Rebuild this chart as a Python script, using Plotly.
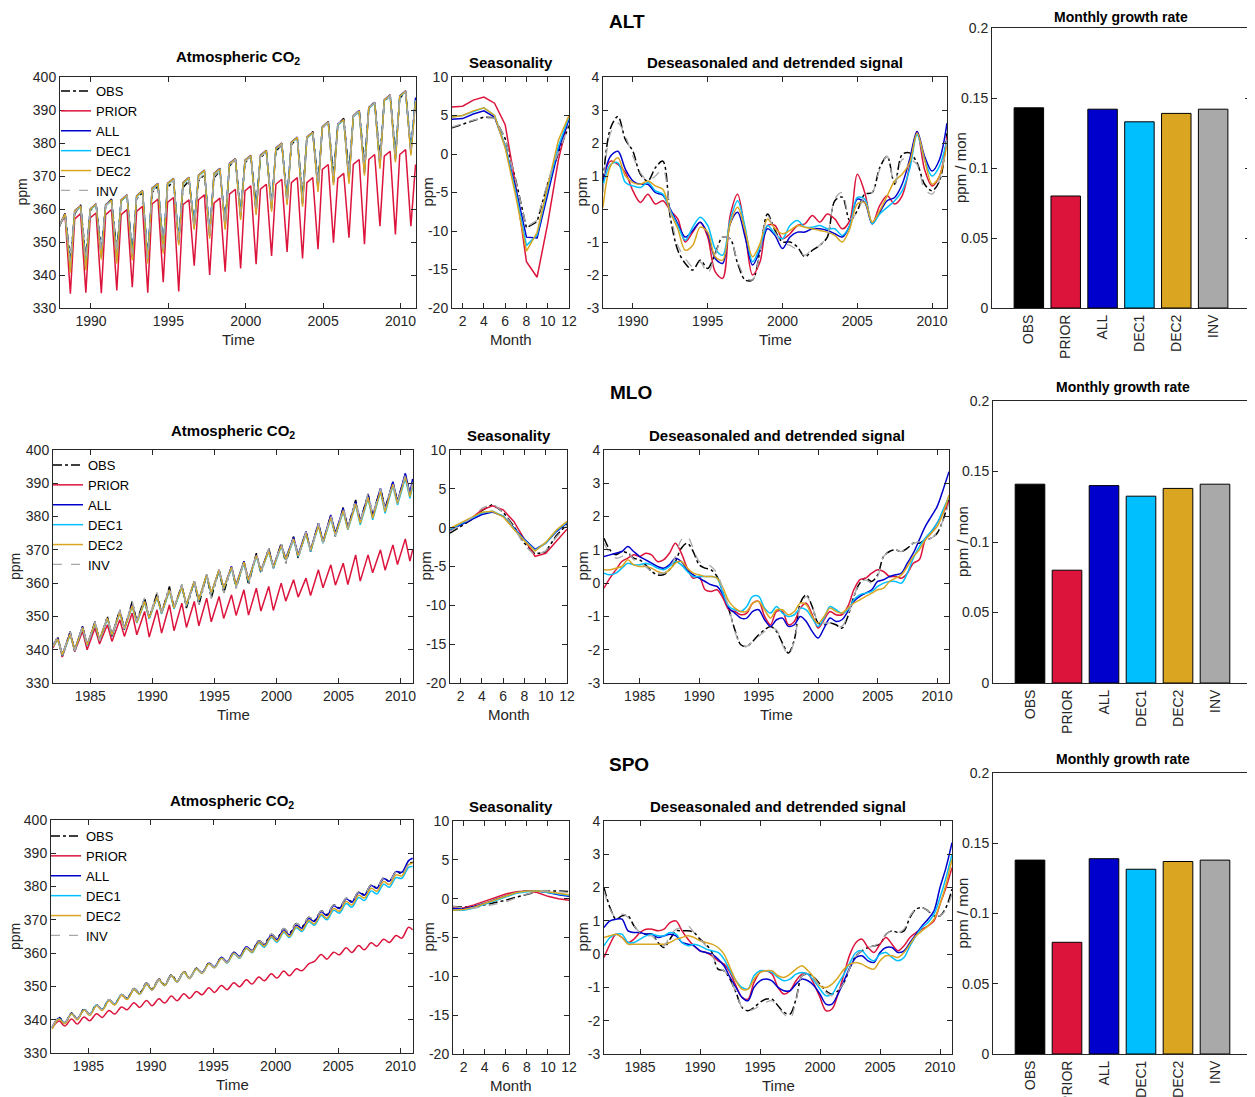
import plotly.graph_objects as go

W, H = 1255, 1097
OFF = 8          # the page body adds an 8 px margin; the figure is sized to fill the rest
FONT = "Liberation Sans, Arial, Helvetica, sans-serif"
AXC = "#262626"

SERIES = ["OBS", "PRIOR", "ALL", "DEC1", "DEC2", "INV"]
COLORS = ["#000000", "#DC143C", "#0000CD", "#00BFFF", "#DAA520", "#A9A9A9"]
DASHES = ["dashdot", "solid", "solid", "solid", "solid", "dash"]
MONTHS = list(range(1, 13))

# ======================= ALT =======================
ALT_YEARS = list(range(1988, 2011))
ALT_CO2_PHASE = [-0.05, 0.33, 0.67]     # early winter, spring maximum, late-summer minimum
ALT_CO2_END = 2010.97
ALT_CO2_OBS = [354.5, 358.8, 344.5, 358.5, 361.3, 345.0, 359.5, 361.5, 347.5, 361.0, 363.0, 347.0,
               362.5, 364.0, 347.0, 363.0, 365.0, 345.5, 365.0, 367.0, 348.5, 366.5, 368.5, 351.0,
               366.5, 368.5, 355.5, 368.5, 370.5, 353.0, 369.5, 371.5, 356.0, 373.0, 375.0, 359.5,
               374.0, 376.0, 361.0, 375.5, 377.3, 361.5, 377.5, 379.5, 363.5, 379.5, 381.5, 364.0,
               381.5, 383.5, 368.0, 384.5, 386.5, 370.5, 385.5, 387.5, 371.0, 388.0, 390.0, 373.5,
               390.5, 392.5, 375.5, 392.5, 394.5, 377.0, 393.5, 395.5, 378.5, 393.0]
ALT_CO2_PRIOR = [355.0, 357.8, 334.3, 357.0, 358.6, 334.6, 357.3, 358.8, 334.5, 358.3, 359.8, 335.3,
                 358.3, 359.8, 336.3, 359.3, 360.8, 334.6, 361.5, 363.0, 337.8, 362.0, 363.5, 335.0,
                 361.3, 362.8, 342.8, 362.8, 364.3, 340.0, 361.8, 363.3, 341.0, 364.5, 366.0, 342.0,
                 365.5, 367.0, 343.3, 366.0, 367.5, 345.8, 367.5, 369.0, 347.0, 368.0, 369.5, 345.0,
                 368.0, 369.5, 347.8, 372.0, 373.5, 349.8, 369.3, 370.8, 351.3, 373.5, 375.0, 349.3,
                 375.0, 376.5, 354.8, 376.0, 377.5, 352.3, 376.5, 378.0, 354.8, 373.5]
ALT_CO2_ALL = [355.0, 358.6, 341.5, 359.5, 361.0, 342.3, 360.0, 361.6, 345.5, 361.3, 362.8, 344.3,
               362.8, 364.3, 345.3, 364.0, 365.6, 344.3, 366.3, 367.8, 347.3, 367.8, 369.3, 349.8,
               368.0, 369.6, 354.5, 370.3, 371.8, 351.8, 370.8, 372.3, 354.5, 373.8, 375.3, 357.5,
               374.8, 376.3, 359.0, 376.3, 377.8, 360.0, 378.5, 380.0, 362.0, 380.3, 381.8, 361.5,
               381.8, 383.3, 366.0, 385.0, 386.5, 368.0, 385.7, 387.2, 368.5, 388.3, 389.8, 371.0,
               390.8, 392.3, 373.0, 393.1, 394.6, 375.0, 394.3, 395.8, 377.0, 393.8]
ALT_CO2_DEC1 = [354.8, 358.3, 342.0, 359.2, 360.7, 342.8, 359.7, 361.3, 346.0, 361.0, 362.5, 344.8,
                362.5, 364.0, 345.8, 363.7, 365.3, 344.8, 366.0, 367.5, 347.8, 367.5, 369.0, 350.3,
                367.7, 369.3, 355.0, 370.0, 371.5, 352.3, 370.5, 372.0, 355.0, 373.5, 375.0, 358.0,
                374.5, 376.0, 359.5, 376.0, 377.5, 360.5, 378.2, 379.7, 362.5, 380.0, 381.5, 362.0,
                381.5, 383.0, 366.5, 384.7, 386.2, 368.5, 385.4, 386.9, 369.0, 388.0, 389.5, 371.5,
                390.5, 392.0, 373.5, 392.8, 394.3, 375.5, 394.0, 395.5, 377.5, 393.0]
ALT_CO2_DEC2 = [354.9, 358.5, 340.7, 359.4, 360.9, 341.5, 359.9, 361.5, 344.7, 361.2, 362.7, 343.5,
                362.7, 364.2, 344.5, 363.9, 365.5, 343.5, 366.2, 367.7, 346.5, 367.7, 369.2, 349.0,
                367.9, 369.5, 353.7, 370.2, 371.7, 351.0, 370.7, 372.2, 353.7, 373.7, 375.2, 356.7,
                374.7, 376.2, 358.2, 376.2, 377.7, 359.2, 378.4, 379.9, 361.2, 380.2, 381.7, 360.7,
                381.7, 383.2, 365.2, 384.9, 386.4, 367.2, 385.6, 387.1, 367.7, 388.2, 389.7, 370.2,
                390.7, 392.2, 372.2, 393.0, 394.5, 374.2, 394.2, 395.7, 376.2, 392.5]
ALT_CO2_INV = [354.7, 358.6, 344.0, 358.8, 361.0, 344.5, 359.6, 361.4, 347.0, 361.0, 362.8, 346.5,
               362.5, 364.0, 346.5, 363.2, 365.0, 345.0, 365.2, 367.2, 348.0, 366.7, 368.7, 350.5,
               366.8, 368.8, 355.0, 368.8, 370.8, 352.5, 369.8, 371.8, 355.5, 373.0, 375.0, 359.0,
               374.2, 376.0, 360.5, 375.7, 377.5, 361.0, 377.7, 379.6, 363.0, 379.6, 381.5, 363.5,
               381.5, 383.3, 367.5, 384.5, 386.3, 370.0, 385.6, 387.4, 370.5, 388.0, 389.8, 373.0,
               390.5, 392.3, 375.0, 392.6, 394.4, 376.5, 393.6, 395.5, 378.0, 393.0]

ALT_SEAS_OBS = [3.4, 3.9, 4.3, 4.8, 4.7, 2.0, -3.4, -9.6, -8.8, -3.8, 0.1, 3.7]
ALT_SEAS_PRIOR = [6.1, 6.2, 7.0, 7.4, 6.6, 3.8, -4.2, -14.0, -16.0, -9.0, -0.8, 5.0]
ALT_SEAS_ALL = [4.5, 4.6, 5.2, 5.6, 4.8, 1.0, -4.5, -10.8, -10.9, -5.0, 0.5, 4.5]
ALT_SEAS_DEC1 = [4.8, 5.0, 5.5, 6.0, 5.0, 1.0, -5.0, -11.9, -10.5, -4.5, 1.0, 4.8]
ALT_SEAS_DEC2 = [4.8, 5.0, 5.6, 6.0, 5.0, 0.8, -5.5, -12.6, -10.2, -4.0, 1.8, 5.0]
ALT_SEAS_INV = [3.5, 4.0, 4.4, 4.7, 4.7, 2.0, -3.5, -9.5, -8.6, -3.6, 0.3, 3.6]

ALT_DS_START, ALT_DS_STEP = 1988.0, 0.5
ALT_DS_OBS = [0.8, 2.45, 2.8, 2.1, 1.75, 1.05, 0.85, 1.25, 1.45, -0.25, -1.25, -1.65, -1.85, -1.55,
              -1.8, -1.35, -0.85, -0.9, -1.65, -2.15, -2.15, -1.25, -0.15, -0.65, -1.0, -1.0, -1.15,
              -1.45, -1.25, -1.1, -0.85, 0.25, 0.36, -0.35, -0.05, 0.45, 0.5, 1.25, 1.6, 0.75, 1.65,
              1.7, 1.4, 0.75, 0.55, 0.85, 2.3]
ALT_DS_PRIOR = [0.9, 1.45, 1.35, 1.1, 0.55, 0.2, 0.45, 0.15, 0.25, -0.05, -0.3, -1.0, -0.7, -0.4,
                -0.85, -1.9, -2.1, -0.2, 0.45, -0.7, -2.0, -1.6, -0.5, -0.5, -0.9, -0.75, -0.5, -0.45,
                -0.2, -0.4, -0.15, -0.3, -0.6, -0.35, 1.05, 0.5, -0.45, 0.1, 0.4, 0.15, 0.4, 1.3,
                2.35, 1.2, 0.7, 1.0, 2.2]
ALT_DS_ALL = [0.85, 1.6, 1.75, 1.2, 0.85, 0.75, 0.75, 0.5, 0.42, 0.0, -0.45, -0.85, -0.65, -0.4,
              -0.75, -1.5, -1.65, -0.45, -0.1, -0.85, -1.7, -1.25, -0.6, -0.8, -1.2, -0.85, -0.7,
              -0.7, -0.6, -0.6, -0.65, -0.75, -0.85, -0.5, 0.3, 0.2, -0.45, -0.1, 0.25, 0.35, 0.75,
              1.5, 2.35, 1.6, 1.15, 1.5, 2.6]
ALT_DS_DEC1 = [0.7, 1.35, 1.4, 0.8, 0.7, 0.65, 0.8, 0.55, 0.45, -0.05, -0.5, -0.95, -0.55, -0.25,
               -0.5, -1.2, -1.4, -0.35, 0.25, -0.55, -1.6, -1.15, -0.5, -0.75, -0.9, -0.5, -0.35,
               -0.55, -0.55, -0.5, -0.6, -0.6, -0.8, -0.5, 0.35, 0.3, -0.45, -0.15, 0.05, 0.25, 0.55,
               1.2, 2.25, 1.5, 1.0, 1.3, 2.1]
ALT_DS_DEC2 = [0.05, 1.3, 1.55, 1.0, 0.8, 0.75, 0.85, 0.7, 0.6, -0.1, -0.6, -1.25, -1.1, -0.55,
               -0.7, -1.45, -1.55, -0.45, 0.05, -0.65, -1.45, -1.05, -0.3, -0.6, -0.75, -0.65, -0.5,
               -0.55, -0.6, -0.65, -0.7, -0.8, -1.0, -0.6, 0.15, 0.2, -0.4, -0.05, 0.4, 0.85, 1.05,
               1.4, 2.3, 1.5, 0.75, 1.0, 2.0]
ALT_DS_INV = [0.5, 2.3, 2.6, 2.2, 1.6, 1.1, 0.85, 1.0, 1.2, -0.1, -1.1, -1.5, -1.75, -1.6, -1.95,
              -1.4, -0.85, -0.9, -1.6, -2.05, -2.15, -1.3, -0.2, -0.7, -1.05, -1.1, -1.25, -1.4,
              -1.2, -1.1, -0.8, 0.3, 0.5, -0.3, -0.1, 0.4, 0.5, 1.2, 1.6, 0.75, 1.5, 1.5, 1.35, 0.6,
              0.45, 0.9, 2.1]

ALT_RATE = [0.143, 0.080, 0.142, 0.133, 0.139, 0.142]

# ======================= MLO =======================
MLO_YEARS = list(range(1982, 2011))
MLO_CO2_START = 1982.0
MLO_CO2_PHASE = [0.38, 0.75]            # May maximum, Sep/Oct minimum
MLO_CO2_END = 2010.97
MLO_CO2_OBS = [341.0,
               344.0, 338.0, 345.5, 339.5, 347.0, 341.0, 348.5, 342.5, 350.0, 344.0, 352.0, 346.0,
               354.5, 348.5, 355.5, 349.5, 357.0, 351.0, 359.0, 352.5, 359.5, 352.5, 360.5, 353.5,
               362.5, 355.5, 364.0, 357.0, 365.0, 358.5, 366.5, 359.5, 369.0, 363.0, 370.5, 364.5,
               372.0, 366.0, 374.0, 367.5, 375.5, 369.5, 378.0, 372.0, 380.5, 374.0, 382.8, 376.5,
               385.0, 378.5, 386.8, 380.5, 388.5, 382.5, 390.3, 384.5, 392.7, 386.5,
               390.5]
MLO_CO2_PRIOR = [340.5,
                 343.5, 337.8, 345.0, 339.5, 345.5, 340.0, 346.5, 341.7, 347.5, 342.5, 349.0, 344.0,
                 351.0, 344.5, 351.5, 343.8, 352.0, 345.0, 353.5, 345.7, 354.0, 346.7, 354.5, 347.2,
                 355.5, 348.4, 356.0, 349.4, 356.5, 350.3, 358.0, 350.4, 358.5, 351.6, 359.0, 351.8,
                 360.0, 354.6, 361.0, 355.8, 361.5, 356.3, 364.0, 358.6, 365.5, 359.4, 366.0, 359.6,
                 368.5, 360.6, 368.5, 363.1, 370.0, 363.9, 371.5, 365.6, 373.3, 366.6,
                 370.0]
MLO_CO2_ALL = [341.5,
               343.5, 338.5, 345.0, 340.0, 347.0, 341.5, 348.0, 343.0, 349.5, 344.5, 351.5, 346.5,
               353.5, 348.5, 354.5, 349.5, 356.0, 351.0, 358.0, 352.5, 359.0, 353.5, 360.5, 355.0,
               362.5, 357.0, 364.0, 358.5, 365.0, 359.5, 366.5, 361.0, 368.5, 363.8, 370.0, 365.0,
               371.5, 367.5, 373.8, 368.5, 375.5, 370.0, 378.0, 372.5, 380.5, 375.0, 382.5, 376.5,
               384.5, 378.5, 386.5, 380.0, 388.5, 382.0, 390.5, 384.5, 393.0, 387.0,
               391.3]
MLO_CO2_DEC1 = [341.0,
                343.0, 338.3, 344.5, 339.8, 346.5, 341.3, 347.8, 342.8, 349.3, 344.3, 351.0, 346.2,
                353.0, 348.0, 354.3, 349.3, 355.8, 350.8, 357.8, 352.3, 358.8, 353.3, 360.3, 354.8,
                362.3, 356.8, 363.8, 358.3, 364.5, 359.0, 366.0, 360.5, 368.0, 363.5, 369.5, 364.5,
                371.0, 367.0, 373.0, 368.0, 374.8, 369.5, 377.2, 372.0, 379.5, 374.3, 381.5, 376.0,
                383.5, 377.5, 385.5, 379.0, 387.5, 381.0, 389.3, 383.5, 391.5, 385.5,
                389.0]
MLO_CO2_DEC2 = [341.0,
                343.2, 338.5, 344.7, 340.0, 346.7, 341.5, 348.0, 343.0, 349.5, 344.5, 351.2, 346.3,
                353.2, 348.2, 354.5, 349.5, 356.0, 351.0, 358.0, 352.5, 359.0, 353.5, 360.5, 355.0,
                362.5, 357.0, 364.0, 358.5, 364.8, 359.3, 366.3, 360.8, 368.3, 363.7, 369.7, 364.8,
                371.3, 367.2, 373.3, 368.2, 375.0, 369.8, 377.4, 372.2, 379.8, 374.5, 381.8, 376.2,
                383.8, 378.0, 385.8, 379.5, 387.8, 381.5, 389.7, 384.0, 392.0, 386.0,
                389.5]
MLO_CO2_INV = [341.2,
               344.0, 338.2, 345.5, 339.7, 347.0, 341.2, 348.5, 342.7, 350.0, 344.2, 352.0, 346.2,
               354.7, 348.7, 355.7, 349.7, 357.2, 351.2, 359.0, 352.7, 359.5, 352.7, 360.5, 353.6,
               362.5, 355.5, 364.0, 357.0, 365.0, 358.5, 366.5, 359.5, 369.0, 363.0, 370.5, 364.5,
               372.0, 366.0, 374.0, 367.5, 375.5, 369.5, 378.0, 372.0, 380.5, 374.0, 382.8, 376.5,
               385.0, 378.5, 386.8, 380.5, 388.5, 382.5, 390.3, 384.5, 392.5, 386.3,
               390.3]

MLO_SEAS_OBS = [-0.7, 0.2, 1.0, 2.2, 3.0, 2.0, 0.2, -2.0, -3.4, -3.1, -1.0, 0.4]
MLO_SEAS_PRIOR = [-0.3, 0.5, 1.2, 2.3, 2.8, 2.3, 0.8, -1.5, -3.7, -3.3, -1.8, -0.2]
MLO_SEAS_ALL = [-0.3, 0.4, 1.0, 1.7, 2.0, 1.5, 0.0, -1.5, -2.8, -2.0, -0.5, 0.6]
MLO_SEAS_DEC1 = [-0.2, 0.5, 1.2, 1.9, 2.1, 1.5, -0.1, -1.6, -2.9, -2.0, -0.4, 0.7]
MLO_SEAS_DEC2 = [-0.1, 0.6, 1.2, 2.0, 2.1, 1.4, -0.2, -1.7, -3.0, -1.9, -0.3, 0.8]
MLO_SEAS_INV = [-0.5, 0.3, 1.2, 2.5, 3.1, 2.0, 0.0, -2.3, -3.6, -3.0, -1.2, 0.3]

MLO_DS_START, MLO_DS_STEP = 1982.0, 0.5
MLO_DS_OBS = [1.35, 1.0, 0.85, 0.95, 0.9, 0.75, 0.7, 0.55, 0.35, 0.25, 0.25, 0.4, 0.65, 1.05, 1.2,
              0.95, 0.55, 0.45, 0.4, 0.2, -0.3, -0.8, -1.4, -1.85, -1.9, -1.75, -1.55, -1.4, -1.3,
              -1.45, -1.8, -2.1, -1.7, -0.6, -0.35, -0.7, -1.2, -1.25, -1.2, -1.25, -1.35, -1.0,
              -0.4, 0.0, 0.15, 0.05, 0.25, 0.8, 0.95, 1.0, 0.95, 1.05, 1.2, 1.2, 1.3, 1.35, 1.5,
              1.9, 2.5]
MLO_DS_PRIOR = [-0.15, 0.15, 0.4, 0.65, 0.75, 0.85, 0.8, 0.9, 0.85, 0.65, 0.7, 0.9, 1.2, 0.9, 0.45,
                0.15, 0.2, -0.2, -0.25, -0.2, -0.45, -0.8, -0.85, -0.95, -0.9, -0.6, -0.55, -1.0,
                -1.25, -0.85, -0.85, -1.25, -1.15, -0.75, -0.6, -0.95, -1.35, -1.1, -0.85, -0.95,
                -0.95, -0.7, -0.2, 0.1, 0.15, 0.3, 0.4, 0.35, 0.2, 0.2, 0.15, 0.3, 0.6, 0.7, 1.3,
                1.5, 1.8, 2.1, 2.45]
MLO_DS_ALL = [0.8, 0.85, 0.9, 0.95, 1.1, 0.95, 0.8, 0.7, 0.6, 0.5, 0.45, 0.55, 0.75, 0.65, 0.4,
              0.25, 0.15, 0.05, -0.05, -0.1, -0.35, -0.75, -0.9, -1.05, -1.05, -0.85, -0.8, -1.1,
              -1.3, -1.1, -1.05, -1.3, -1.25, -1.0, -1.15, -1.45, -1.65, -1.35, -1.05, -1.15, -1.1,
              -0.85, -0.55, -0.4, -0.3, -0.2, 0.05, 0.1, 0.2, 0.25, 0.3, 0.6, 0.9, 1.3, 1.7, 2.0,
              2.3, 2.8, 3.35]
MLO_DS_DEC1 = [0.3, 0.25, 0.3, 0.45, 0.6, 0.55, 0.55, 0.6, 0.55, 0.45, 0.4, 0.5, 0.65, 0.55, 0.35,
               0.2, 0.2, 0.2, 0.2, 0.15, -0.3, -0.7, -0.8, -0.85, -0.7, -0.4, -0.4, -0.75, -0.9,
               -0.7, -0.9, -1.0, -0.95, -0.75, -0.8, -1.05, -1.3, -1.05, -0.7, -0.8, -0.9, -0.8,
               -0.5, -0.35, -0.3, -0.25, -0.1, 0.0, 0.05, 0.05, 0.0, 0.3, 0.75, 1.1, 1.35, 1.55,
               1.8, 2.2, 2.6]
MLO_DS_DEC2 = [0.4, 0.4, 0.45, 0.5, 0.7, 0.55, 0.5, 0.5, 0.45, 0.35, 0.3, 0.4, 0.6, 0.65, 0.45,
               0.3, 0.25, 0.2, 0.2, 0.15, -0.15, -0.55, -0.75, -0.85, -0.85, -0.6, -0.55, -0.8,
               -1.05, -0.8, -0.8, -0.95, -0.85, -0.6, -0.65, -1.0, -1.2, -1.0, -0.75, -0.85, -0.9,
               -0.75, -0.6, -0.5, -0.4, -0.3, -0.2, -0.15, 0.05, 0.15, 0.25, 0.5, 0.8, 1.0, 1.3,
               1.5, 1.7, 2.1, 2.65]
MLO_DS_INV = [1.2, 0.9, 0.75, 0.8, 0.95, 0.7, 0.6, 0.5, 0.35, 0.3, 0.3, 0.45, 0.8, 1.3, 1.4, 1.05,
              0.65, 0.6, 0.5, 0.3, -0.2, -0.75, -1.45, -1.85, -1.9, -1.75, -1.6, -1.45, -1.35,
              -1.4, -1.85, -2.15, -1.75, -0.7, -0.4, -0.7, -1.15, -1.2, -1.2, -1.3, -1.3, -0.95,
              -0.4, 0.0, 0.1, 0.0, 0.2, 0.8, 0.95, 1.0, 0.95, 1.1, 1.2, 1.25, 1.3, 1.35, 1.5, 1.9,
              2.4]

MLO_RATE = [0.141, 0.080, 0.140, 0.1325, 0.138, 0.141]

# ======================= SPO =======================
SPO_YEARS = list(range(1982, 2011))
SPO_CO2_PHASE = [0.1, 0.65]             # Feb minimum, Aug/Sep maximum
SPO_CO2_END = 2010.97
SPO_CO2_OBS = [337.8, 340.7, 339.1, 342.0, 340.3, 343.2, 341.6, 344.5, 343.1, 346.0, 344.7, 347.6,
               346.5, 349.4, 348.1, 351.0, 349.3, 352.2, 350.6, 353.5, 351.6, 354.5, 352.6, 355.5,
               354.1, 357.0, 355.8, 358.7, 357.3, 360.2, 358.9, 361.8, 360.8, 363.7, 362.8, 365.7,
               364.5, 367.4, 366.0, 368.9, 367.9, 370.8, 369.8, 372.7, 371.6, 374.5, 373.6, 376.5,
               375.5, 378.4, 377.6, 380.5, 379.7, 382.6, 381.6, 384.5, 383.9, 386.8, 387.3]
SPO_CO2_PRIOR = [337.5, 339.6, 338.1, 340.2, 338.7, 340.8, 339.7, 341.8, 340.7, 342.8, 341.7, 343.8,
                 343.0, 345.1, 343.7, 345.8, 344.2, 346.3, 345.0, 347.1, 345.7, 347.8, 346.4, 348.5,
                 347.5, 349.6, 348.2, 350.3, 349.0, 351.1, 349.9, 352.0, 350.7, 352.8, 351.7, 353.8,
                 352.5, 354.6, 353.2, 355.3, 354.7, 356.8, 357.5, 359.6, 358.2, 360.3, 359.5, 361.6,
                 360.2, 362.3, 361.0, 363.1, 362.1, 364.2, 363.2, 365.3, 364.5, 367.8, 367.0]
SPO_CO2_ALL = [337.5, 340.5, 339.0, 341.9, 340.2, 343.1, 341.5, 344.4, 343.0, 345.9, 344.6, 347.5,
               346.3, 349.2, 347.8, 350.7, 349.0, 351.9, 350.3, 353.2, 351.4, 354.3, 352.5, 355.4,
               354.1, 357.0, 355.9, 358.8, 357.4, 360.3, 359.0, 361.9, 360.7, 363.6, 362.5, 365.4,
               364.1, 367.0, 365.5, 368.4, 367.5, 370.4, 369.5, 372.4, 371.3, 374.2, 373.4, 376.3,
               375.3, 378.2, 377.4, 380.3, 379.5, 382.4, 381.6, 384.5, 384.3, 387.8, 388.5]
SPO_CO2_DEC1 = [337.4, 340.3, 338.9, 341.8, 340.1, 343.0, 341.5, 344.4, 343.0, 345.9, 344.6, 347.5,
                346.2, 349.1, 347.7, 350.6, 349.0, 351.9, 350.3, 353.2, 351.4, 354.3, 352.4, 355.3,
                353.9, 356.8, 355.6, 358.5, 357.0, 359.9, 358.5, 361.4, 360.1, 363.0, 361.8, 364.7,
                363.3, 366.2, 364.7, 367.6, 366.5, 369.4, 368.4, 371.3, 370.0, 372.9, 372.0, 374.9,
                373.8, 376.7, 375.8, 378.7, 377.8, 380.7, 379.8, 382.7, 382.5, 385.8, 386.0]
SPO_CO2_DEC2 = [337.2, 340.2, 338.8, 341.7, 340.0, 342.9, 341.3, 344.2, 342.8, 345.7, 344.4, 347.3,
                346.1, 349.0, 347.7, 350.6, 349.0, 351.9, 350.3, 353.2, 351.4, 354.3, 352.4, 355.3,
                353.9, 356.8, 355.6, 358.5, 357.1, 360.0, 358.6, 361.5, 360.3, 363.2, 362.1, 365.0,
                363.6, 366.5, 365.0, 367.9, 366.9, 369.8, 368.8, 371.7, 370.5, 373.4, 372.6, 375.5,
                374.5, 377.4, 376.6, 379.5, 378.6, 381.5, 380.6, 383.5, 383.2, 386.6, 387.0]
SPO_CO2_INV = [337.9, 340.8, 339.2, 342.0, 340.3, 343.3, 341.6, 344.5, 343.1, 346.1, 344.8, 347.7,
               346.6, 349.5, 348.2, 351.0, 349.3, 352.2, 350.5, 353.4, 351.6, 354.4, 352.6, 355.5,
               354.1, 357.0, 355.8, 358.6, 357.2, 360.1, 358.8, 361.7, 360.7, 363.7, 362.8, 365.7,
               364.5, 367.4, 366.0, 368.9, 367.9, 370.8, 369.8, 372.7, 371.6, 374.5, 373.6, 376.5,
               375.6, 378.4, 377.6, 380.5, 379.7, 382.6, 381.6, 384.4, 383.8, 386.7, 387.2]

SPO_SEAS_OBS = [-1.0, -1.1, -1.0, -0.8, -0.5, -0.2, 0.2, 0.6, 0.9, 1.0, 1.0, 0.9]
SPO_SEAS_PRIOR = [-1.2, -1.2, -0.8, -0.3, 0.2, 0.6, 0.9, 1.0, 0.8, 0.3, 0.0, -0.2]
SPO_SEAS_ALL = [-1.3, -1.3, -1.0, -0.6, -0.1, 0.4, 0.8, 1.0, 1.0, 0.8, 0.5, 0.3]
SPO_SEAS_DEC1 = [-1.5, -1.5, -1.2, -0.7, -0.2, 0.3, 0.7, 0.9, 1.0, 0.8, 0.6, 0.4]
SPO_SEAS_DEC2 = [-1.5, -1.4, -1.1, -0.6, -0.1, 0.4, 0.8, 1.0, 1.0, 0.9, 0.7, 0.5]
SPO_SEAS_INV = [-1.0, -1.2, -1.2, -1.0, -0.7, -0.4, 0.1, 0.6, 0.9, 1.0, 0.9, 0.8]

SPO_DS_START, SPO_DS_STEP = 1982.0, 0.5
SPO_DS_OBS = [2.0, 1.4, 1.05, 1.15, 1.15, 0.85, 0.65, 0.6, 0.6, 0.35, 0.2, 0.45, 0.7, 0.7, 0.7, 0.65,
              0.45, 0.3, 0.05, -0.45, -0.5, -0.75, -1.15, -1.6, -1.7, -1.6, -1.45, -1.35, -1.35,
              -1.55, -1.75, -1.8, -1.35, -0.65, -0.6, -0.7, -0.9, -1.1, -1.2, -1.1, -0.85, -0.4,
              -0.05, 0.1, 0.2, 0.25, 0.3, 0.6, 0.7, 0.65, 0.7, 1.1, 1.35, 1.4, 1.3, 1.15, 1.15,
              1.4, 1.95]
SPO_DS_PRIOR = [-0.1, 0.3, 0.6, 0.5, 0.35, 0.45, 0.65, 0.75, 0.75, 0.7, 0.75, 0.95, 1.0, 0.7, 0.45,
                0.25, 0.1, 0.05, -0.05, -0.2, -0.3, -0.55, -0.95, -1.3, -1.35, -0.85, -0.55, -0.5,
                -0.6, -1.0, -1.2, -1.1, -0.8, -0.6, -0.6, -0.9, -1.3, -1.7, -1.65, -1.2, -0.6, 0.0,
                0.35, 0.45, 0.2, 0.05, 0.3, 0.5, 0.3, 0.1, 0.25, 0.5, 0.65, 0.75, 0.85, 1.0, 1.5,
                2.0, 2.6]
SPO_DS_ALL = [0.8, 1.0, 1.05, 1.05, 0.7, 0.65, 0.65, 0.6, 0.6, 0.5, 0.55, 0.6, 0.55, 0.35, 0.3,
              0.25, 0.1, 0.05, 0.0, -0.15, -0.35, -0.7, -1.0, -1.3, -1.4, -1.0, -0.8, -0.75, -0.8,
              -1.0, -1.1, -1.1, -0.9, -0.75, -0.8, -0.95, -1.2, -1.5, -1.5, -1.2, -0.8, -0.4, -0.1,
              -0.05, -0.2, -0.25, 0.05, 0.2, 0.2, 0.05, 0.1, 0.35, 0.6, 0.85, 1.05, 1.3, 2.0, 2.6,
              3.35]
SPO_DS_DEC1 = [0.25, 0.5, 0.6, 0.6, 0.35, 0.35, 0.45, 0.55, 0.6, 0.55, 0.55, 0.65, 0.6, 0.35, 0.25,
               0.3, 0.25, 0.15, 0.1, 0.05, -0.15, -0.5, -0.8, -1.0, -1.05, -0.65, -0.5, -0.5, -0.55,
               -0.7, -0.8, -0.75, -0.6, -0.55, -0.6, -0.8, -1.05, -1.25, -1.2, -0.9, -0.6, -0.25,
               0.05, 0.1, -0.1, -0.2, 0.0, 0.05, -0.1, -0.2, -0.1, 0.25, 0.55, 0.8, 0.95, 1.2, 1.7,
               2.3, 3.0]
SPO_DS_DEC2 = [0.5, 0.55, 0.6, 0.5, 0.3, 0.3, 0.3, 0.3, 0.3, 0.3, 0.3, 0.35, 0.45, 0.5, 0.55, 0.5,
               0.4, 0.35, 0.3, 0.2, 0.0, -0.4, -0.8, -1.05, -1.05, -0.75, -0.55, -0.5, -0.5, -0.65,
               -0.7, -0.6, -0.45, -0.35, -0.5, -0.7, -0.95, -1.0, -0.9, -0.7, -0.45, -0.3, -0.25,
               -0.3, -0.4, -0.45, -0.2, -0.05, -0.05, -0.1, 0.05, 0.3, 0.55, 0.7, 0.85, 1.05, 1.5,
               2.1, 2.85]
SPO_DS_INV = [1.9, 1.35, 1.1, 1.2, 1.1, 0.85, 0.65, 0.55, 0.55, 0.35, 0.25, 0.55, 0.75, 0.8, 0.85,
              0.65, 0.45, 0.25, 0.0, -0.4, -0.5, -0.75, -1.15, -1.6, -1.7, -1.65, -1.55, -1.45,
              -1.4, -1.6, -1.8, -1.95, -1.4, -0.65, -0.6, -0.75, -0.95, -1.15, -1.25, -1.1, -0.85,
              -0.4, -0.05, 0.1, 0.2, 0.25, 0.35, 0.6, 0.7, 0.65, 0.75, 1.15, 1.35, 1.4, 1.3, 1.2,
              1.15, 1.35, 1.8]

SPO_RATE = [0.138, 0.0795, 0.139, 0.1315, 0.137, 0.138]

# ---------------- time axes of the samples ----------------
ALT_CO2_T = [y + p for y in ALT_YEARS for p in ALT_CO2_PHASE] + [ALT_CO2_END]
MLO_CO2_T = [MLO_CO2_START] + [y + p for y in MLO_YEARS for p in MLO_CO2_PHASE] + [MLO_CO2_END]
SPO_CO2_T = [y + p for y in SPO_YEARS for p in SPO_CO2_PHASE] + [SPO_CO2_END]


def grid(start, step, n):
    return [start + step * i for i in range(n)]


STATIONS = [
    dict(name="ALT", co2_t=ALT_CO2_T, co2_shape="linear",
         co2=[ALT_CO2_OBS, ALT_CO2_PRIOR, ALT_CO2_ALL, ALT_CO2_DEC1, ALT_CO2_DEC2, ALT_CO2_INV],
         seas=[ALT_SEAS_OBS, ALT_SEAS_PRIOR, ALT_SEAS_ALL, ALT_SEAS_DEC1, ALT_SEAS_DEC2, ALT_SEAS_INV],
         ds_t=grid(ALT_DS_START, ALT_DS_STEP, len(ALT_DS_OBS)),
         ds=[ALT_DS_OBS, ALT_DS_PRIOR, ALT_DS_ALL, ALT_DS_DEC1, ALT_DS_DEC2, ALT_DS_INV],
         rate=ALT_RATE, xr=[1988, 2011], xt=[1990, 1995, 2000, 2005, 2010]),
    dict(name="MLO", co2_t=MLO_CO2_T, co2_shape="linear",
         co2=[MLO_CO2_OBS, MLO_CO2_PRIOR, MLO_CO2_ALL, MLO_CO2_DEC1, MLO_CO2_DEC2, MLO_CO2_INV],
         seas=[MLO_SEAS_OBS, MLO_SEAS_PRIOR, MLO_SEAS_ALL, MLO_SEAS_DEC1, MLO_SEAS_DEC2, MLO_SEAS_INV],
         ds_t=grid(MLO_DS_START, MLO_DS_STEP, len(MLO_DS_OBS)),
         ds=[MLO_DS_OBS, MLO_DS_PRIOR, MLO_DS_ALL, MLO_DS_DEC1, MLO_DS_DEC2, MLO_DS_INV],
         rate=MLO_RATE, xr=[1982, 2011], xt=[1985, 1990, 1995, 2000, 2005, 2010]),
    dict(name="SPO", co2_t=SPO_CO2_T, co2_shape="spline",
         co2=[SPO_CO2_OBS, SPO_CO2_PRIOR, SPO_CO2_ALL, SPO_CO2_DEC1, SPO_CO2_DEC2, SPO_CO2_INV],
         seas=[SPO_SEAS_OBS, SPO_SEAS_PRIOR, SPO_SEAS_ALL, SPO_SEAS_DEC1, SPO_SEAS_DEC2, SPO_SEAS_INV],
         ds_t=grid(SPO_DS_START, SPO_DS_STEP, len(SPO_DS_OBS)),
         ds=[SPO_DS_OBS, SPO_DS_PRIOR, SPO_DS_ALL, SPO_DS_DEC1, SPO_DS_DEC2, SPO_DS_INV],
         rate=SPO_RATE, xr=[1982, 2011], xt=[1985, 1990, 1995, 2000, 2005, 2010]),
]

# ---------------- layout geometry (window pixels) ----------------
BOXES = [
    [(60, 416, 77, 308), (452, 569, 77, 308), (603, 947, 77, 308), (992, 1250, 28, 308)],
    [(53, 413, 450, 683), (450, 567, 450, 683), (604, 949, 450, 683), (993, 1252, 401, 683)],
    [(51, 413, 820, 1053), (453, 569, 821, 1054), (604, 952, 821, 1054), (993, 1252, 773, 1054)],
]
ROW_TITLE = [(627, 21), (631, 392), (629, 764)]
LEGEND_POS = [(56, 76), (48, 450), (46, 821)]
CO2_YLABEL_X = [21, 14.5, 14.5]

FW, FH = W - OFF, H - OFF


def px(x):
    return (x - OFF) / FW


def py(y):
    return 1 - (y - OFF) / FH


fig = go.Figure()
layout = dict(width=FW, height=FH, margin=dict(l=0, r=0, t=0, b=0),
              paper_bgcolor="white", plot_bgcolor="white",
              font=dict(family=FONT, size=14, color=AXC), showlegend=True)
annotations = []


def ann(text, x, y, size=15, bold=False, angle=0, color="black"):
    annotations.append(dict(text=f"<b>{text}</b>" if bold else text, x=px(x), y=py(y),
                            xref="paper", yref="paper", showarrow=False, textangle=angle,
                            xanchor="center", yanchor="middle",
                            font=dict(family=FONT, size=size, color=color)))


def axis_common():
    return dict(showline=True, linecolor=AXC, linewidth=1, mirror="ticks", ticks="inside",
                ticklen=5, tickcolor=AXC, tickwidth=1, showgrid=False, zeroline=False,
                automargin=False, tickfont=dict(family=FONT, size=14, color=AXC))


def ticktexts(vals):
    return [("-" + str(abs(v))) if v < 0 else str(v) for v in vals]


for r, st in enumerate(STATIONS):
    legname = "legend" if r == 0 else f"legend{r + 1}"
    for c in range(4):
        idx = r * 4 + c + 1
        xa = "x" if idx == 1 else f"x{idx}"
        ya = "y" if idx == 1 else f"y{idx}"
        l, rr, t, b = BOXES[r][c]
        xk = "xaxis" if idx == 1 else f"xaxis{idx}"
        yk = "yaxis" if idx == 1 else f"yaxis{idx}"
        xcfg = axis_common()
        ycfg = axis_common()
        xcfg.update(domain=[px(l), px(rr)], anchor=ya)
        ycfg.update(domain=[py(b), py(t)], anchor=xa)

        if c == 0:
            for k, s in enumerate(SERIES):
                fig.add_trace(go.Scatter(
                    x=st["co2_t"], y=st["co2"][k], mode="lines", name=s,
                    line=dict(color=COLORS[k], width=1.5 if k != 5 else 1.3, dash=DASHES[k],
                              shape=st["co2_shape"]),
                    xaxis=xa, yaxis=ya, legend=legname, showlegend=True))
            xcfg.update(range=st["xr"], tickvals=st["xt"])
            yv = [330, 340, 350, 360, 370, 380, 390, 400]
            ycfg.update(range=[330, 400], tickvals=yv)
        elif c == 1:
            for k, s in enumerate(SERIES):
                fig.add_trace(go.Scatter(
                    x=MONTHS, y=st["seas"][k], mode="lines", name=s,
                    line=dict(color=COLORS[k], width=1.5 if k != 5 else 1.3, dash=DASHES[k]),
                    xaxis=xa, yaxis=ya, showlegend=False))
            xcfg.update(range=[1, 12], tickvals=[2, 4, 6, 8, 10, 12])
            yv = [-20, -15, -10, -5, 0, 5, 10]
            ycfg.update(range=[-20, 10], tickvals=yv, ticktext=ticktexts(yv))
        elif c == 2:
            for k, s in enumerate(SERIES):
                fig.add_trace(go.Scatter(
                    x=st["ds_t"], y=st["ds"][k], mode="lines", name=s,
                    line=dict(color=COLORS[k], width=1.5 if k != 5 else 1.3, dash=DASHES[k],
                              shape="spline", smoothing=0.9),
                    xaxis=xa, yaxis=ya, showlegend=False))
            xcfg.update(range=st["xr"], tickvals=st["xt"])
            yv = [-3, -2, -1, 0, 1, 2, 3, 4]
            ycfg.update(range=[-3, 4], tickvals=yv, ticktext=ticktexts(yv))
        else:
            fig.add_trace(go.Bar(
                x=SERIES, y=st["rate"], width=0.8,
                marker=dict(color=COLORS, line=dict(color="black", width=1)),
                xaxis=xa, yaxis=ya, showlegend=False))
            xcfg.update(range=[-1, 6], tickangle=-90, ticks="", type="category")
            ycfg.update(range=[0, 0.2], tickvals=[0, 0.05, 0.1, 0.15, 0.2],
                        ticktext=["0", "0.05", "0.1", "0.15", "0.2"])
        layout[xk] = xcfg
        layout[yk] = ycfg

    # legend for this row
    lx, ly = LEGEND_POS[r]
    layout[legname] = dict(x=px(lx), y=py(ly), xanchor="left", yanchor="top",
                           bgcolor="rgba(0,0,0,0)", borderwidth=0,
                           font=dict(family=FONT, size=13, color="black"),
                           itemwidth=30, tracegroupgap=0)

    # titles and axis labels
    co2, seas, ds, bar = BOXES[r]
    ann(st["name"], ROW_TITLE[r][0], ROW_TITLE[r][1], size=19, bold=True)
    ann("Atmospheric CO<sub>2</sub>", (co2[0] + co2[1]) / 2, co2[2] - 19, size=15, bold=True)
    ann("Seasonality", (seas[0] + seas[1]) / 2, seas[2] - 15, size=15, bold=True)
    ann("Deseasonaled and detrended signal", (ds[0] + ds[1]) / 2, ds[2] - 15, size=15, bold=True)
    ann("Monthly growth rate", (bar[0] + bar[1]) / 2, max(bar[2] - 14, 17), size=14, bold=True)
    ann("Time", (co2[0] + co2[1]) / 2, co2[3] + 31, size=15, color=AXC)
    ann("Month", (seas[0] + seas[1]) / 2, seas[3] + 31, size=15, color=AXC)
    ann("Time", (ds[0] + ds[1]) / 2, ds[3] + 31, size=15, color=AXC)
    ann("ppm", CO2_YLABEL_X[r], (co2[2] + co2[3]) / 2, size=14, angle=-90, color=AXC)
    ann("ppm", seas[0] - 25, (seas[2] + seas[3]) / 2, size=15, angle=-90, color=AXC)
    ann("ppm", ds[0] - 22, (ds[2] + ds[3]) / 2, size=15, angle=-90, color=AXC)
    ann("ppm / mon", bar[0] - 31, (bar[2] + bar[3]) / 2, size=15, angle=-90, color=AXC)

layout["annotations"] = annotations
fig.update_layout(**layout)
fig.write_html("out.html")
